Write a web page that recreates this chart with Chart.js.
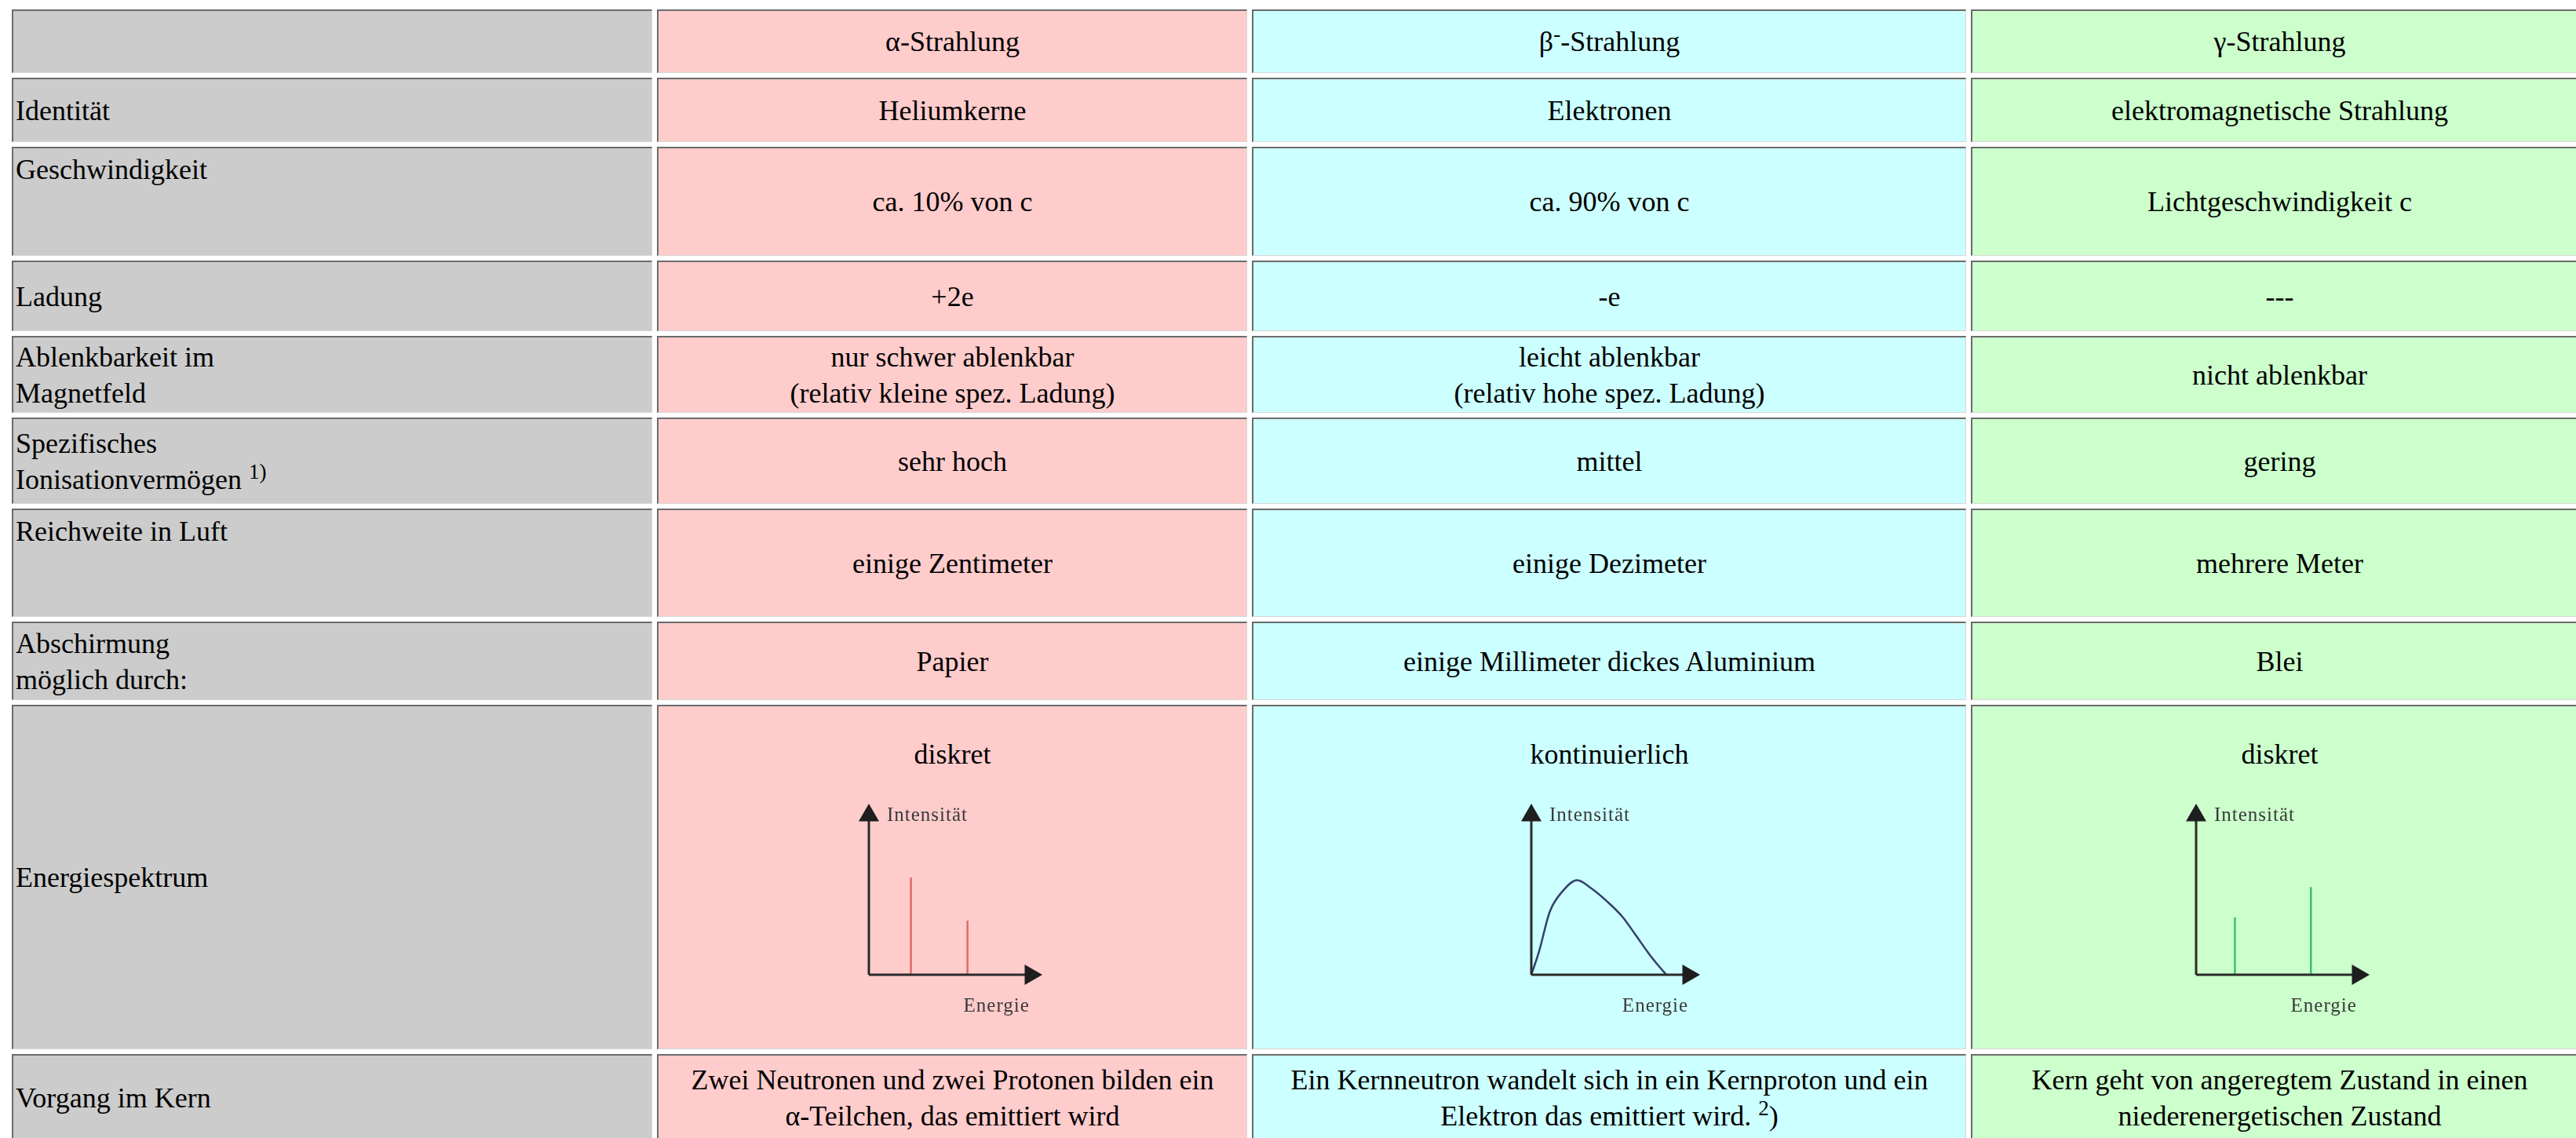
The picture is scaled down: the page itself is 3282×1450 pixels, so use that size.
<!DOCTYPE html>
<html>
<head>
<meta charset="utf-8">
<script src="https://cdn.jsdelivr.net/npm/chart.js@4.4.0/dist/chart.umd.min.js"></script>
<style>
    html, body { margin: 0; padding: 0; background: #fff; width: 3282px; height: 1450px; overflow: hidden; }
    table {
        position: absolute; left: 9px; top: 6px;
        border-collapse: separate; border-spacing: 6px; table-layout: fixed; width: 3294px;
        font-family: "Liberation Serif", "Times New Roman", serif; font-size: 36px; line-height: 46px; color: #000;
    }
    td {
        box-sizing: border-box; padding: 0 4px; vertical-align: middle; white-space: nowrap; overflow: hidden;
        border-top: 2px solid #6b6b6b; border-left: 2px solid #6b6b6b;
        border-right: 1px solid #d6d6d6; border-bottom: 1px solid #d6d6d6;
    }
    td.lab { background: #cccccc; text-align: left; padding-left: 3px; }
    td.alpha { background: #ffcccc; text-align: center; }
    td.beta { background: #ccffff; text-align: center; }
    td.gamma { background: #ccffcc; text-align: center; }
    td.top { vertical-align: top; padding-top: 4px; }
    td.spec { vertical-align: top; padding-top: 38px; }
    sup { font-size: 27px; line-height: 0; vertical-align: super; }
    .specBox { position: relative; width: 400px; height: 320px; margin: 5px auto 0; }
</style>
</head>
<body>
<table id="tbl">
    <colgroup><col style="width:816px"><col style="width:752px"><col style="width:910px"><col style="width:786px"></colgroup>
    <tbody id="body"></tbody>
</table>
<script>
    // Table texts
    var rowLabels = ['', 'Identität', 'Geschwindigkeit', 'Ladung', 'Ablenkbarkeit im<br>Magnetfeld',
        'Spezifisches<br>Ionisationvermögen <sup>1)</sup>', 'Reichweite in Luft', 'Abschirmung<br>möglich durch:',
        'Energiespektrum', 'Vorgang im Kern'];
    var alphaCells = ['α-Strahlung', 'Heliumkerne', 'ca. 10% von c', '+2e',
        'nur schwer ablenkbar<br>(relativ kleine spez. Ladung)', 'sehr hoch', 'einige Zentimeter', 'Papier', 'diskret',
        'Zwei Neutronen und zwei Protonen bilden ein<br>α-Teilchen, das emittiert wird'];
    var betaCells = ['β<sup>-</sup>-Strahlung', 'Elektronen', 'ca. 90% von c', '-e',
        'leicht ablenkbar<br>(relativ hohe spez. Ladung)', 'mittel', 'einige Dezimeter', 'einige Millimeter dickes Aluminium',
        'kontinuierlich', 'Ein Kernneutron wandelt sich in ein Kernproton und ein<br>Elektron das emittiert wird. <sup>2</sup>)'];
    var gammaCells = ['γ-Strahlung', 'elektromagnetische Strahlung', 'Lichtgeschwindigkeit c', '---', 'nicht ablenkbar',
        'gering', 'mehrere Meter', 'Blei', 'diskret',
        'Kern geht von angeregtem Zustand in einen<br>niederenergetischen Zustand'];

    // Spectrum values (axis units 0..100)
    var alphaEnergy = [26, 61];
    var alphaIntensity = [61, 34];
    var gammaEnergy = [24, 71];
    var gammaIntensity = [36, 55];
    var betaEnergy = [0, 5, 11.7, 20, 29.2, 38.3, 48.3, 58.3, 66.7, 75, 81.7, 85.8];
    var betaIntensity = [0, 14.8, 39.4, 52.5, 59.4, 54.2, 46, 36.1, 24.6, 13.1, 4.9, 0.3];
    var yAxisLabel = 'Intensität';
    var xAxisLabel = 'Energie';

    // layout
    var rowHeights = [81, 82, 139, 90, 98, 110, 138, 100, 439, 110];
    var topLabelRows = [2, 6];
    var SPEC_ROW = 8;
    var AXIS_MAX = 100;

    var tbody = document.getElementById('body');
    rowLabels.forEach(function (label, i) {
        var tr = document.createElement('tr');
        tr.style.height = rowHeights[i] + 'px';
        var labCls = 'lab' + (topLabelRows.indexOf(i) >= 0 ? ' top' : '');
        var html = '<td class="' + labCls + '">' + label + '</td>';
        var extra = i === SPEC_ROW ? ' spec' : '';
        html += '<td class="alpha' + extra + '">' + alphaCells[i] + (i === SPEC_ROW ? '<div class="specBox"><canvas id="alphaChart"></canvas></div>' : '') + '</td>';
        html += '<td class="beta' + extra + '">' + betaCells[i] + (i === SPEC_ROW ? '<div class="specBox"><canvas id="betaChart"></canvas></div>' : '') + '</td>';
        html += '<td class="gamma' + extra + '">' + gammaCells[i] + (i === SPEC_ROW ? '<div class="specBox"><canvas id="gammaChart"></canvas></div>' : '') + '</td>';
        tr.innerHTML = html;
        tbody.appendChild(tr);
    });

    var axisLabels = {
        id: 'axisLabels',
        afterDatasetsDraw: function (chart) {
            var ctx = chart.ctx, x = chart.scales.x, y = chart.scales.y;
            ctx.save();
            ctx.fillStyle = '#3a3a3a';
            ctx.font = '25px "Liberation Serif"';
            ctx.letterSpacing = '1px';
            ctx.textBaseline = 'middle';
            ctx.textAlign = 'left';
            ctx.fillText(yAxisLabel, x.getPixelForValue(0) + 23, y.getPixelForValue(AXIS_MAX));
            ctx.textAlign = 'center';
            ctx.fillText(xAxisLabel, x.getPixelForValue(79), y.getPixelForValue(0) + 40);
            ctx.restore();
        }
    };

    function axisSets() {
        return [{
            data: [{ x: 0, y: 0 }, { x: AXIS_MAX, y: 0 }],
            borderColor: '#2a2a2a', borderWidth: 3, showLine: true, clip: false,
            pointRadius: [0, 15], pointStyle: 'triangle', pointRotation: 90,
            pointBackgroundColor: '#1e1e1e', pointBorderWidth: 0
        }, {
            data: [{ x: 0, y: 0 }, { x: 0, y: AXIS_MAX }],
            borderColor: '#2a2a2a', borderWidth: 3, showLine: true, clip: false,
            pointRadius: [0, 15], pointStyle: 'triangle', pointRotation: 0,
            pointBackgroundColor: '#1e1e1e', pointBorderWidth: 0
        }];
    }

    function lineSets(energies, intensities, color) {
        return energies.map(function (e, i) {
            return {
                data: [{ x: e, y: 0 }, { x: e, y: intensities[i] }],
                borderColor: color, borderWidth: 2.5, showLine: true, pointRadius: 0, clip: false
            };
        });
    }

    function makeSpectrum(id, datasets, padLeft, padRight) {
        return new Chart(document.getElementById(id), {
            type: 'scatter',
            data: { datasets: axisSets().concat(datasets) },
            options: {
                responsive: true,
                maintainAspectRatio: false,
                animation: false,
                events: [],
                layout: { padding: { left: padLeft, right: padRight, top: 50, bottom: 67 } },
                scales: {
                    x: { type: 'linear', min: 0, max: AXIS_MAX, display: false },
                    y: { type: 'linear', min: 0, max: AXIS_MAX, display: false }
                },
                plugins: { legend: { display: false }, tooltip: { enabled: false } }
            },
            plugins: [axisLabels]
        });
    }

    makeSpectrum('alphaChart', lineSets(alphaEnergy, alphaIntensity, '#e06868'), 93, 101);
    makeSpectrum('gammaChart', lineSets(gammaEnergy, gammaIntensity, '#3cc06a'), 93, 101);
    makeSpectrum('betaChart', [{
        data: betaEnergy.map(function (e, i) { return { x: e, y: betaIntensity[i] }; }),
        borderColor: '#34406a', borderWidth: 2.5, showLine: true, pointRadius: 0, clip: false,
        cubicInterpolationMode: 'monotone'
    }], 100, 100);
</script>
</body>
</html>
